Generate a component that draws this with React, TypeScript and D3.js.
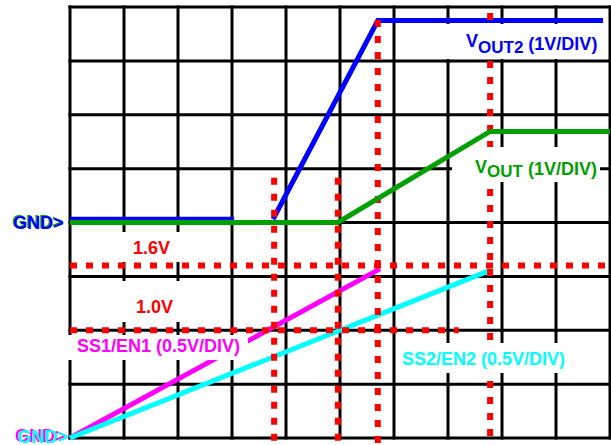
import React from 'react';
import * as d3 from 'd3';

// ---------- data ----------
// grid divisions
const timeDivs = d3.range(0, 11);
const levelDivs = d3.range(0, 9);

// VOUT (1V/DIV), ground reference at division 4 : [time div, volts]
const voutTime = [0, 4.96, 7.78, 10];
const voutVolts = [0, 0, 1.69, 1.69];

// VOUT2 (1V/DIV), ground reference at division 4 (NaN = gap)
const vout2Time = [0, 3.04, NaN, 3.76, 5.7, 9.87];
const vout2Volts = [0.06, 0.06, NaN, 0.06, 3.75, 3.75];

// SS1/EN1 and SS2/EN2 (0.5V/DIV), ground reference at division 0
const ss1Time = [0, 5.74];
const ss1Volts = [0, 1.57];
const ss2Time = [0, 7.8];
const ss2Volts = [0, 1.56];

// threshold levels (on the 0.5V/DIV traces)
const levelVolts = [1.6, 1.0];
const levelLabels = ['1.6V', '1.0V'];
const levelEndTime = [10, 7.2];

// timing markers (time div) and their top (division)
const markerTimes = [3.78, 4.96, 5.7, 7.78];
const markerTops = [4.83, 4.83, 7.76, 7.89];

// ---------- layout ----------
const W = 611;
const H = 445;
const FONT = "'Liberation Sans', Arial, sans-serif";

const x = d3.scaleLinear().domain([0, 10]).range([70, 610]);
const gy = d3.scaleLinear().domain([0, 8]).range([438, 7]);
const yOut = (v: number) => gy(4 + v / 1);
const ySS = (v: number) => gy(v / 0.5);

const mkLine = (ys: (v: number) => number) =>
  d3
    .line<[number, number]>()
    .defined((d) => !isNaN(d[0]) && !isNaN(d[1]))
    .x((d) => x(d[0]))
    .y((d) => ys(d[1]));

const zip = (a: number[], b: number[]) => a.map((t, i) => [t, b[i]] as [number, number]);

const outLine = mkLine(yOut);
const ssLine = mkLine(ySS);

const RED = '#ff0000';
const BLUE = '#0000ff';
const GREEN = '#00a000';
const MAGENTA = '#ff00ff';
const CYAN = '#00ffff';

export default function App() {
  const dash = '7 9';
  return (
    <svg
      width={W}
      height={H}
      style={{ position: 'absolute', left: 0, top: 0, background: '#fff' }}
      fontFamily={FONT}
      fontWeight="bold"
    >
      <rect x={0} y={0} width={W} height={H} fill="#fff" />
      {/* grid */}
      <g stroke="#000" strokeWidth={3}>
        {timeDivs.map((t) => (
          <line key={'v' + t} x1={x(t)} x2={x(t)} y1={gy(0) + 1.5} y2={gy(8) - 1.5} />
        ))}
        {levelDivs.map((l) => (
          <line key={'h' + l} x1={x(0) - 1.5} x2={x(10) + 1.5} y1={gy(l)} y2={gy(l)} />
        ))}
      </g>

      {/* traces under markers */}
      <path d={ssLine(zip(ss1Time, ss1Volts)) || ''} fill="none" stroke={MAGENTA} strokeWidth={5} />
      <path d={ssLine(zip(ss2Time, ss2Volts)) || ''} fill="none" stroke={CYAN} strokeWidth={5} />
      <path d={outLine(zip(vout2Time, vout2Volts)) || ''} fill="none" stroke={BLUE} strokeWidth={5} />

      {/* red dotted markers */}
      <g stroke={RED} strokeWidth={6} strokeDasharray={dash} fill="none">
        {levelVolts.map((v, i) => (
          <line key={'lv' + i} x1={x(0)} x2={x(levelEndTime[i])} y1={ySS(v)} y2={ySS(v)} />
        ))}
        {markerTimes.map((t, i) => (
          <line key={'mk' + i} x1={x(t)} x2={x(t)} y1={gy(markerTops[i])} y2={H} />
        ))}
      </g>

      {/* label boxes */}
      <g fill="#fff">
        <rect x={444} y={24} width={158} height={35} />
        <rect x={452} y={147} width={148} height={35} />
        <rect x={108} y={232} width={92} height={30} />
        <rect x={108} y={281} width={92} height={41} />
        <rect x={66} y={335} width={182} height={25} />
        <rect x={398} y={343} width={177} height={30} />
      </g>

      {/* labels */}
      <text x={466} y={47} fill={BLUE} fontSize={18}>
        V<tspan fontSize={17} dy={6}>OUT2</tspan>
        <tspan dy={-3}> (1V/DIV)</tspan>
      </text>
      <text x={475} y={173} fill={GREEN} fontSize={18}>
        V<tspan fontSize={17} dy={4}>OUT</tspan>
        <tspan dy={-2}> (1V/DIV)</tspan>
      </text>
      {levelLabels.map((s, i) => (
        <text key={s} x={i === 0 ? 133 : 136} y={i === 0 ? 254 : 313} fill={RED} fontSize={18}>
          {s}
        </text>
      ))}
      <text x={77} y={352} fill={MAGENTA} fontSize={18}>
        SS1/EN1 (0.5V/DIV)
      </text>
      <text x={402} y={365} fill={CYAN} fontSize={18}>
        SS2/EN2 (0.5V/DIV)
      </text>

      {/* ground markers */}
      <text x={12} y={228} fill={GREEN} fontSize={18}>GND&gt;</text>
      <text x={13.2} y={229.2} fill={BLUE} fontSize={18}>GND&gt;</text>
      <text x={15} y={442} fill={MAGENTA} fontSize={18}>GND&gt;</text>
      <text x={17.5} y={443} fill={CYAN} fontSize={18}>GND&gt;</text>

      {/* VOUT on top */}
      <path d={outLine(zip(voutTime, voutVolts)) || ''} fill="none" stroke={GREEN} strokeWidth={5} />
    </svg>
  );
}
